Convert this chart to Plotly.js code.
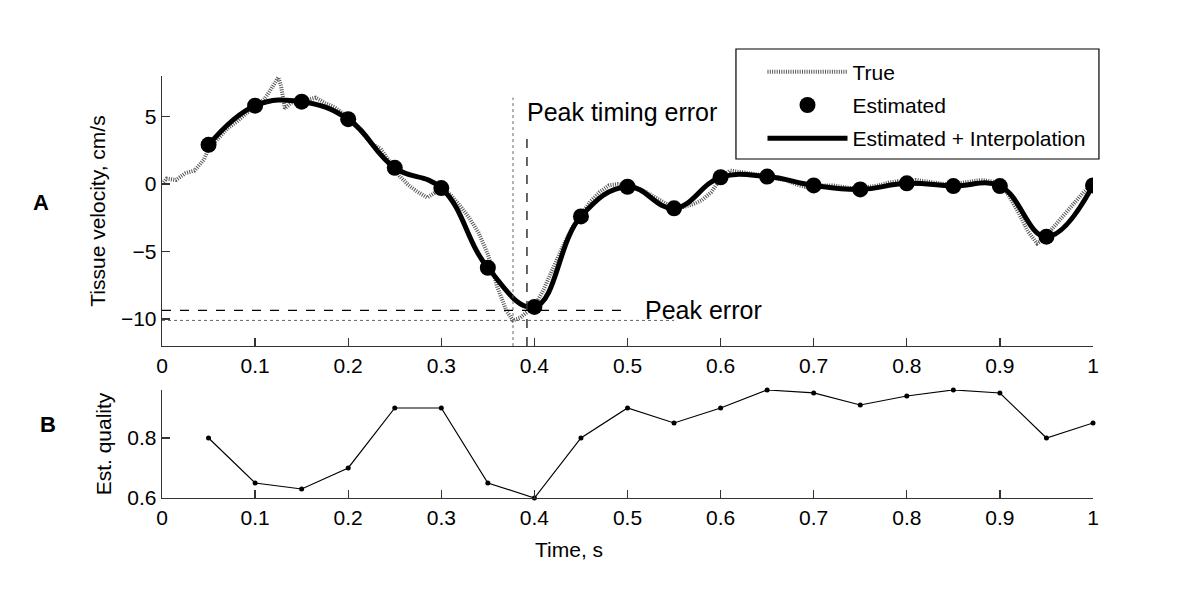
<!DOCTYPE html>
<html>
<head>
<meta charset="utf-8">
<script src="https://cdn.plot.ly/plotly-3.0.1.min.js"></script>
<style>
  html, body { margin: 0; padding: 0; background: #fff; }
  #chart { width: 1200px; height: 600px; }
</style>
</head>
<body>
<div id="chart"></div>
<script>
// ---------- DATA ----------
// Estimated samples (every 0.05 s)
const estT = [0.05, 0.10, 0.15, 0.20, 0.25, 0.30, 0.35, 0.40, 0.45, 0.50,
              0.55, 0.60, 0.65, 0.70, 0.75, 0.80, 0.85, 0.90, 0.95, 1.00];
const estV = [2.9, 5.8, 6.1, 4.8, 1.2, -0.3, -6.2, -9.1, -2.4, -0.2,
              -1.8, 0.5, 0.55, -0.1, -0.4, 0.05, -0.15, -0.15, -3.9, -0.1];
// Estimation quality
const quality = [0.80, 0.65, 0.63, 0.70, 0.90, 0.90, 0.65, 0.60, 0.80, 0.90,
                 0.85, 0.90, 0.96, 0.95, 0.91, 0.94, 0.96, 0.95, 0.80, 0.85];
// True tissue velocity
const trueT = [0.000, 0.005, 0.015, 0.025, 0.035, 0.045, 0.050, 0.060, 0.070, 0.080,
               0.090, 0.100, 0.110, 0.115, 0.120, 0.125, 0.128, 0.132, 0.137, 0.145,
               0.155, 0.165, 0.175, 0.185, 0.195, 0.205, 0.215, 0.225, 0.235, 0.245,
               0.255, 0.265, 0.275, 0.285, 0.292, 0.300, 0.310, 0.320, 0.330, 0.340,
               0.350, 0.355, 0.360, 0.365, 0.370, 0.377, 0.385, 0.390, 0.400, 0.410,
               0.420, 0.430, 0.440, 0.450, 0.460, 0.470, 0.480, 0.490, 0.500, 0.510,
               0.520, 0.530, 0.540, 0.550, 0.560, 0.570, 0.580, 0.590, 0.600, 0.610,
               0.620, 0.630, 0.640, 0.650, 0.660, 0.670, 0.680, 0.690, 0.700, 0.710,
               0.720, 0.730, 0.740, 0.750, 0.760, 0.770, 0.780, 0.790, 0.800, 0.810,
               0.820, 0.830, 0.840, 0.850, 0.860, 0.870, 0.880, 0.890, 0.900, 0.910,
               0.920, 0.930, 0.940, 0.945, 0.950, 0.960, 0.970, 0.980, 0.990, 1.000];
const trueV = [0.0, 0.4, 0.3, 0.8, 1.0, 1.8, 2.6, 3.3, 4.1, 4.6,
               5.2, 5.7, 6.3, 6.8, 7.4, 7.9, 7.2, 5.6, 5.9, 6.3,
               6.2, 6.4, 6.0, 5.7, 5.2, 4.6, 3.8, 3.0, 2.6, 1.6,
               0.6, -0.1, -0.6, -1.0, -0.7, -0.2, -0.8, -1.6, -2.5, -3.6,
               -5.2, -6.3, -7.6, -8.5, -9.4, -10.1, -9.9, -9.6, -9.1, -7.8,
               -6.2, -4.7, -3.3, -2.3, -1.3, -0.6, -0.1, 0.0, -0.1, -0.3,
               -0.6, -1.0, -1.4, -1.8, -1.7, -1.5, -1.2, -0.6, 0.4, 1.0,
               0.9, 0.8, 0.7, 0.6, 0.4, 0.3, 0.0, -0.2, 0.0, -0.1,
               -0.1, -0.2, -0.3, -0.3, -0.2, -0.1, 0.1, 0.2, 0.1, 0.3,
               0.2, 0.1, 0.0, 0.0, 0.1, 0.2, 0.3, 0.2, 0.1, -0.9,
               -2.1, -3.5, -4.4, -4.2, -3.8, -2.9, -2.1, -1.3, -0.6, 0.0];
// Peak markers
const truePeakT = 0.377, truePeakV = -10.1;
const estPeakT = 0.392, estPeakV = -9.35;
// Tick labels
const xTicks = [0, 0.1, 0.2, 0.3, 0.4, 0.5, 0.6, 0.7, 0.8, 0.9, 1];
const xTickText = ["0", "0.1", "0.2", "0.3", "0.4", "0.5", "0.6", "0.7", "0.8", "0.9", "1"];
const yTicks = [-10, -5, 0, 5];
const qTicks = [0.6, 0.8];
const qTickText = ["0.6", "0.8"];

// ---------- STYLE ----------
const FONT = "Liberation Sans, Arial, Helvetica, sans-serif";
const AX = "#333333";
const FS = 21;

const traces = [
  {
    x: trueT, y: trueV, xaxis: "x", yaxis: "y", type: "scatter", mode: "lines",
    name: "True", legendrank: 1, legendgroup: "g1",
    line: { color: "#555555", width: 4, dash: "1px,1.3px" }
  },
  {
    x: estT, y: estV, xaxis: "x", yaxis: "y", type: "scatter", mode: "lines",
    name: "Estimated + Interpolation", legendrank: 3, legendgroup: "g3",
    line: { color: "#000000", width: 5, shape: "spline", smoothing: 1.2 }
  },
  {
    x: estT, y: estV, xaxis: "x", yaxis: "y", type: "scatter", mode: "markers",
    name: "Estimated", legendrank: 2, legendgroup: "g2",
    marker: { color: "#000000", size: 16 }
  },
  {
    x: estT, y: quality, xaxis: "x2", yaxis: "y2", type: "scatter", mode: "lines+markers",
    showlegend: false, name: "Est. quality", cliponaxis: false,
    line: { color: "#000000", width: 1.2 },
    marker: { color: "#000000", size: 5 }
  }
];

const axisCommon = {
  showline: true, linecolor: AX, linewidth: 1.3, mirror: false,
  ticks: "inside", ticklen: 8, tickwidth: 1.3, tickcolor: AX,
  showgrid: false, zeroline: false,
  tickfont: { family: FONT, size: FS, color: "#000" }
};

const layout = {
  width: 1200, height: 600,
  paper_bgcolor: "#fff", plot_bgcolor: "#fff",
  margin: { l: 162, r: 107, t: 76, b: 102 },
  font: { family: FONT, size: FS, color: "#000" },
  showlegend: true,
  legend: {
    x: 0.645, y: 1.058, xanchor: "left", yanchor: "top",
    bgcolor: "rgba(0,0,0,0)", borderwidth: 0,
    font: { family: FONT, size: FS, color: "#000" },
    itemwidth: 80, traceorder: "grouped", tracegroupgap: 3
  },
  xaxis: Object.assign({}, axisCommon, {
    domain: [0, 1], anchor: "y", range: [0, 1],
    tickmode: "array", tickvals: xTicks, ticktext: xTickText
  }),
  yaxis: Object.assign({}, axisCommon, {
    domain: [0.36, 1], anchor: "x", range: [-12, 8],
    tickmode: "array", tickvals: yTicks,
    title: { text: "Tissue velocity, cm/s", font: { family: FONT, size: FS }, standoff: 9 }
  }),
  xaxis2: Object.assign({}, axisCommon, {
    domain: [0, 1], anchor: "y2", range: [0, 1],
    tickmode: "array", tickvals: xTicks, ticktext: xTickText
  }),
  yaxis2: Object.assign({}, axisCommon, {
    domain: [0, 0.256], anchor: "x2", range: [0.6, 0.96],
    tickmode: "array", tickvals: qTicks, ticktext: qTickText,
    title: { text: "Est. quality", font: { family: FONT, size: FS }, standoff: 10 }
  }),
  shapes: [
    { type: "line", xref: "x", yref: "y", x0: truePeakT, x1: truePeakT, y0: -12, y1: 6.4,
      line: { color: "#666", width: 1, dash: "dot" } },
    { type: "line", xref: "x", yref: "y", x0: estPeakT, x1: estPeakT, y0: -12, y1: 3.8,
      line: { color: "#333", width: 1.5, dash: "dash" } },
    { type: "line", xref: "x", yref: "y", x0: 0, x1: 0.5, y0: estPeakV, y1: estPeakV,
      line: { color: "#000", width: 1.2, dash: "dash" } },
    { type: "line", xref: "x", yref: "y", x0: 0, x1: 0.55, y0: truePeakV, y1: truePeakV,
      line: { color: "#666", width: 1, dash: "dot" } },
    // legend frame
    { type: "rect", xref: "paper", yref: "paper", x0: 0.6165, x1: 1.0064, y0: 0.8033, y1: 1.064,
      line: { color: "#000", width: 1.2 }, fillcolor: "#fff", layer: "above" }
  ],
  annotations: [
    { xref: "x", yref: "y", x: 0.39, y: 5.3, xanchor: "left", yanchor: "middle",
      text: "Peak timing error", showarrow: false, font: { family: FONT, size: 25, color: "#000" } },
    { xref: "x", yref: "y", x: 0.517, y: -9.3, xanchor: "left", yanchor: "middle",
      text: "Peak error", showarrow: false, font: { family: FONT, size: 25, color: "#000" } },
    { xref: "paper", yref: "paper", x: 0.437, y: -0.121, xanchor: "center", yanchor: "middle",
      text: "Time, s", showarrow: false, font: { family: FONT, size: FS, color: "#000" } },
    { xref: "paper", yref: "paper", x: -0.13, y: 0.701, xanchor: "center", yanchor: "middle",
      text: "<b>A</b>", showarrow: false, font: { family: FONT, size: 22, color: "#000" } },
    { xref: "paper", yref: "paper", x: -0.1225, y: 0.173, xanchor: "center", yanchor: "middle",
      text: "<b>B</b>", showarrow: false, font: { family: FONT, size: 22, color: "#000" } }
  ]
};

Plotly.newPlot("chart", traces, layout, { displayModeBar: false, staticPlot: true });
</script>
</body>
</html>
